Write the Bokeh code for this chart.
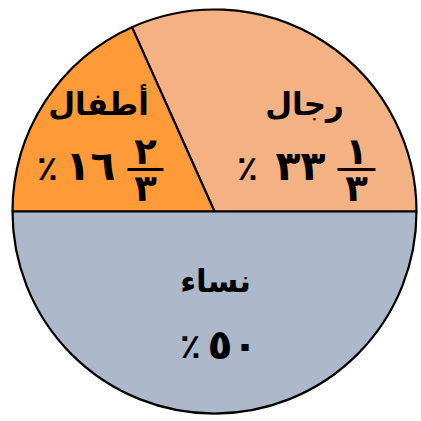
import math
from bokeh.plotting import figure
from bokeh.models import Range1d, ColumnDataSource
from bokeh.core.properties import value
from bokeh.embed import file_html
from bokeh.resources import INLINE

# ---- data ----
categories = ["رجال", "أطفال", "نساء"]          # men, children, women
shares = [31.7, 18.3, 50.0]                     # slice sizes as drawn (percent of circle)
whole_labels = ["٣٣", "١٦", "٥٠"]
frac_num = ["١", "٢", ""]
frac_den = ["٣", "٣", ""]
percent_sign = "٪"
colors = ["#F4B183", "#FF9A38", "#ADB9CA"]

# ---- wedges from shares ----
starts, ends = [], []
acc = 0.0
for s in shares:
    starts.append(acc / 100 * 2 * math.pi)
    acc += s
    ends.append(acc / 100 * 2 * math.pi)

R = 202
p = figure(width=421, height=421, output_backend="svg", toolbar_location=None,
           x_range=Range1d(-214, 207), y_range=Range1d(-210, 211),
           min_border=0)
p.axis.visible = False
p.grid.visible = False
p.outline_line_color = None
p.background_fill_color = "white"
p.border_fill_color = "white"

src = ColumnDataSource(dict(start=starts, end=ends, color=colors))
p.wedge(x=0, y=0, radius=R, start_angle="start", end_angle="end", source=src,
        fill_color="color", line_color="black", line_width=2.2, direction="anticlock")

FONT = value("DejaVu Sans")
word_size = "31px"
num_size = "41px"
frac_size = "37px"
pct_size = "34px"

# layout: per-slice label anchors (pixels relative to the pie centre)
layout = [
    dict(word=(90, 108), pct=(33, 44), whole=(86, 46), bar=(123, 161, 42), num=(142, 60), den=(142, 23)),
    dict(word=(-116, 108), pct=(-167, 44), whole=(-124, 46), bar=(-87, -51, 42), num=(-69, 60), den=(-69, 23)),
    dict(word=(1, -69), pct=(-24, -134), whole=(18, -133), bar=None, num=None, den=None),
]

for i, L in enumerate(layout):
    p.text(x=[L["word"][0]], y=[L["word"][1]], text=[categories[i]], text_font=FONT,
           text_font_style="bold", text_font_size=word_size, text_align="center",
           text_baseline="middle", text_color="black")
    p.text(x=[L["whole"][0]], y=[L["whole"][1]], text=[whole_labels[i]], text_font=FONT,
           text_font_style="bold", text_font_size=num_size, text_align="center",
           text_baseline="middle", text_color="black")
    p.text(x=[L["pct"][0]], y=[L["pct"][1]], text=[percent_sign], text_font=FONT,
           text_font_style="bold", text_font_size=pct_size, text_align="center",
           text_baseline="middle", text_color="black")
    if L["bar"] is not None:
        x0, x1, yb = L["bar"]
        p.segment(x0=[x0], y0=[yb], x1=[x1], y1=[yb], line_color="black", line_width=3)
        p.text(x=[L["num"][0]], y=[L["num"][1]], text=[frac_num[i]], text_font=FONT,
               text_font_style="bold", text_font_size=frac_size, text_align="center",
               text_baseline="middle", text_color="black")
        p.text(x=[L["den"][0]], y=[L["den"][1]], text=[frac_den[i]], text_font=FONT,
               text_font_style="bold", text_font_size=frac_size, text_align="center",
               text_baseline="middle", text_color="black")

open("out.html", "w").write(file_html(p, INLINE))
